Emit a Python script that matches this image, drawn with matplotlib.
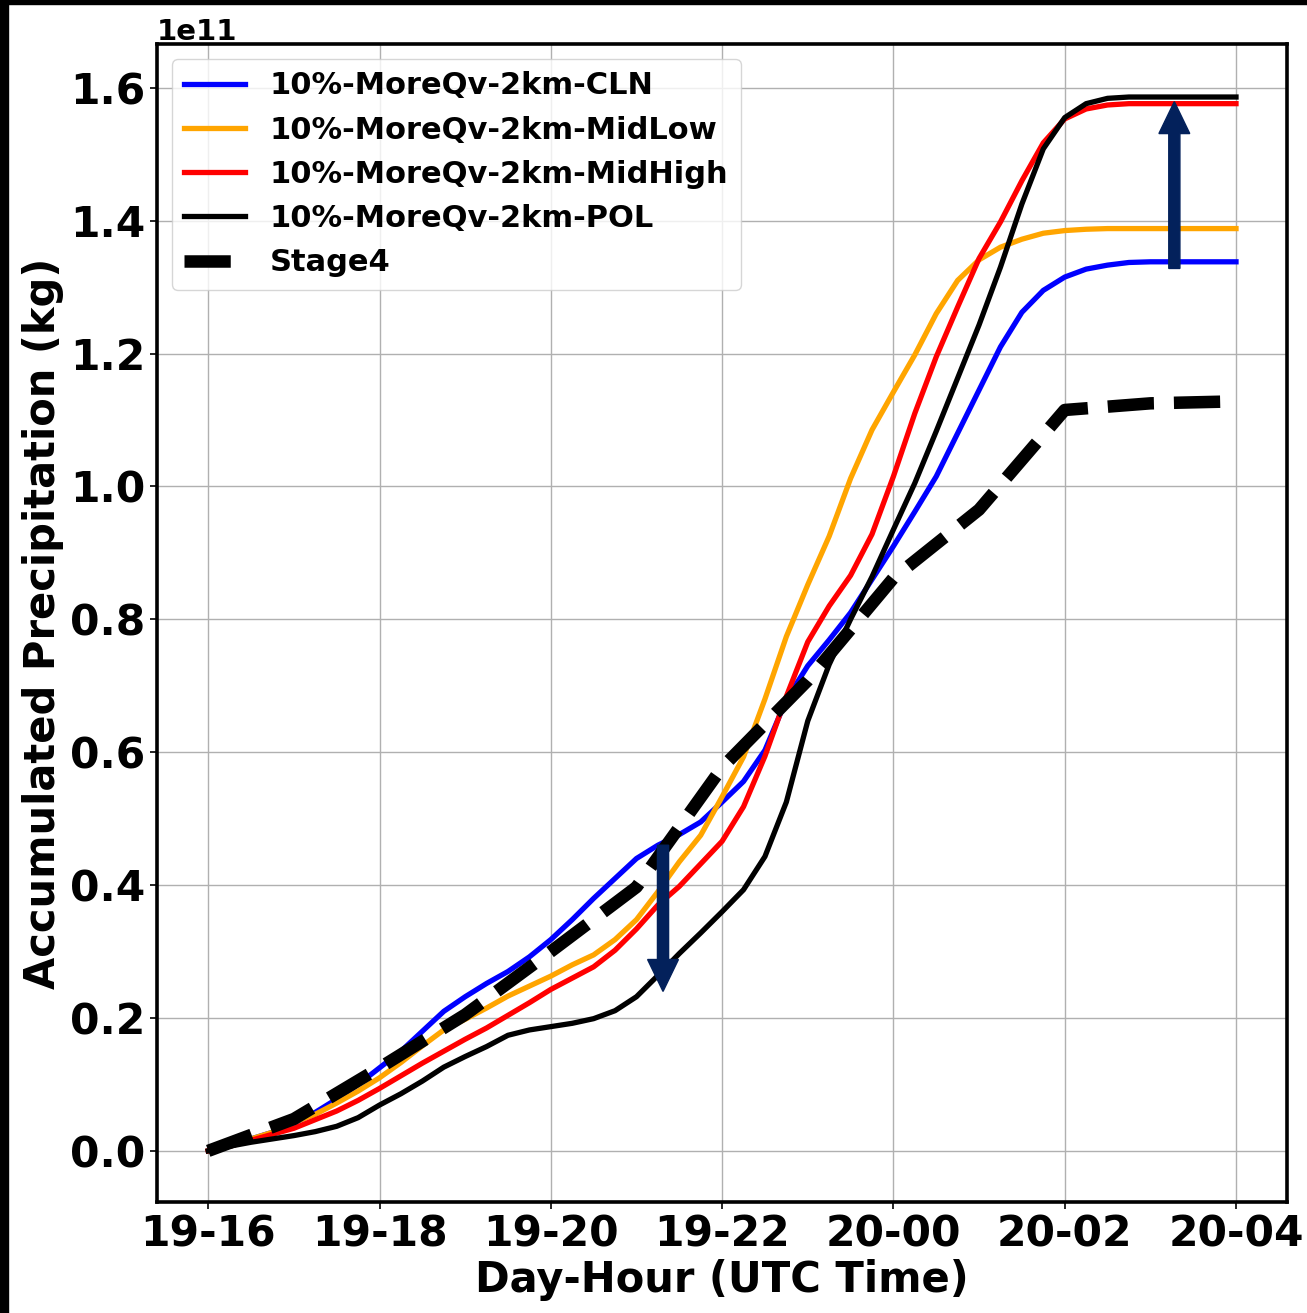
import matplotlib
matplotlib.use("Agg")
import matplotlib.pyplot as plt
from matplotlib.patches import Rectangle
import numpy as np

# Simulation output time axis: hours after 19-16 UTC, 15-minute steps
hours = np.arange(0, 12.01, 0.25)

# Accumulated precipitation in units of 1e11 kg
cln = [0.000, 0.008, 0.018, 0.028, 0.042, 0.058, 0.078, 0.100, 0.125, 0.150,
       0.180, 0.210, 0.232, 0.252, 0.270, 0.292, 0.318, 0.348, 0.380, 0.410,
       0.440, 0.460, 0.476, 0.495, 0.525, 0.556, 0.603, 0.679, 0.730, 0.769,
       0.810, 0.860, 0.910, 0.962, 1.015, 1.080, 1.145, 1.210, 1.262, 1.295,
       1.315, 1.327, 1.333, 1.337, 1.338, 1.338, 1.338, 1.338, 1.338]
midlow = [0.000, 0.008, 0.018, 0.028, 0.043, 0.055, 0.072, 0.090, 0.110, 0.133,
          0.158, 0.182, 0.198, 0.215, 0.233, 0.248, 0.263, 0.280, 0.295, 0.318,
          0.348, 0.390, 0.435, 0.475, 0.533, 0.593, 0.680, 0.774, 0.852, 0.925,
          1.012, 1.085, 1.142, 1.198, 1.260, 1.310, 1.341, 1.360, 1.372, 1.381,
          1.385, 1.387, 1.388, 1.388, 1.388, 1.388, 1.388, 1.388, 1.388]
midhigh = [0.000, 0.007, 0.016, 0.025, 0.034, 0.047, 0.060, 0.076, 0.094, 0.113,
           0.132, 0.150, 0.168, 0.185, 0.204, 0.223, 0.243, 0.260, 0.277, 0.302,
           0.334, 0.370, 0.398, 0.432, 0.466, 0.518, 0.594, 0.684, 0.766, 0.820,
           0.866, 0.928, 1.015, 1.110, 1.195, 1.270, 1.343, 1.398, 1.460, 1.517,
           1.553, 1.568, 1.574, 1.576, 1.576, 1.576, 1.576, 1.576, 1.576]
pol = [0.000, 0.007, 0.013, 0.018, 0.023, 0.029, 0.037, 0.050, 0.069, 0.086,
       0.105, 0.126, 0.142, 0.157, 0.174, 0.182, 0.187, 0.192, 0.199, 0.211,
       0.232, 0.264, 0.297, 0.328, 0.360, 0.393, 0.443, 0.525, 0.647, 0.732,
       0.800, 0.864, 0.935, 1.005, 1.083, 1.163, 1.243, 1.330, 1.425, 1.508,
       1.555, 1.576, 1.584, 1.586, 1.586, 1.586, 1.586, 1.586, 1.586]

# Stage IV hourly observations (1e11 kg)
stage4_hours = np.arange(0, 13, 1)
stage4 = [0.000, 0.048, 0.125, 0.205, 0.300, 0.397, 0.577, 0.708, 0.862,
          0.965, 1.115, 1.125, 1.128]

series_labels = ["10%-MoreQv-2km-CLN", "10%-MoreQv-2km-MidLow",
                 "10%-MoreQv-2km-MidHigh", "10%-MoreQv-2km-POL"]
series_colors = ["blue", "orange", "red", "black"]

tick_hours = [0, 2, 4, 6, 8, 10, 12]
tick_labels = ["19-16", "19-18", "19-20", "19-22", "20-00", "20-02", "20-04"]

# Arrows: (hour, start value, end value) in 1e11 kg
arrow_specs = [(5.31, 0.460, 0.240), (11.28, 1.328, 1.579)]

scale = 1e11

plt.rcParams["font.family"] = "DejaVu Sans"
plt.rcParams["font.weight"] = "bold"
plt.rcParams["axes.labelweight"] = "bold"

fig = plt.figure(figsize=(13.07, 13.13), dpi=100)
ax = fig.add_axes([0.120, 0.0846, 0.865, 0.882])

for vals, lab, col in zip([cln, midlow, midhigh, pol], series_labels, series_colors):
    ax.plot(hours, np.array(vals) * scale, color=col, lw=3.8, label=lab)

ax.plot(stage4_hours, np.array(stage4) * scale, color="black", lw=9, ls="--",
        label="Stage4")

for xh, y0, y1 in arrow_specs:
    ax.arrow(xh, y0 * scale, 0, (y1 - y0) * scale, width=0.13, head_width=0.36,
             head_length=0.048 * scale, length_includes_head=True,
             color="#03215b", zorder=5)

ax.set_xlim(-0.6, 12.6)
ax.set_ylim(-0.0768 * scale, 1.666 * scale)
ax.set_xticks(tick_hours)
ax.set_xticklabels(tick_labels)
ax.tick_params(axis="both", labelsize=30.5, width=1.2, length=5)
ax.yaxis.get_offset_text().set_fontsize(21)
ax.yaxis.get_offset_text().set_fontweight("bold")

ax.grid(True, color="#b0b0b0", lw=1.0)
ax.set_axisbelow(True)
for sp in ax.spines.values():
    sp.set_linewidth(2.6)

ax.set_xlabel("Day-Hour (UTC Time)", fontsize=30, labelpad=2)
ax.set_ylabel("Accumulated Precipitation (kg)", fontsize=30, labelpad=4)

ax.legend(loc="upper left", fontsize=22)

# dark frame strips along the top and left edges of the canvas
fig.add_artist(Rectangle((0, 0), 8 / 1307, 1, transform=fig.transFigure,
                         color="black", zorder=10))
fig.add_artist(Rectangle((0, 1 - 4 / 1313), 1, 4 / 1313, transform=fig.transFigure,
                         color="black", zorder=10))

fig.savefig("out.png", dpi=100)
